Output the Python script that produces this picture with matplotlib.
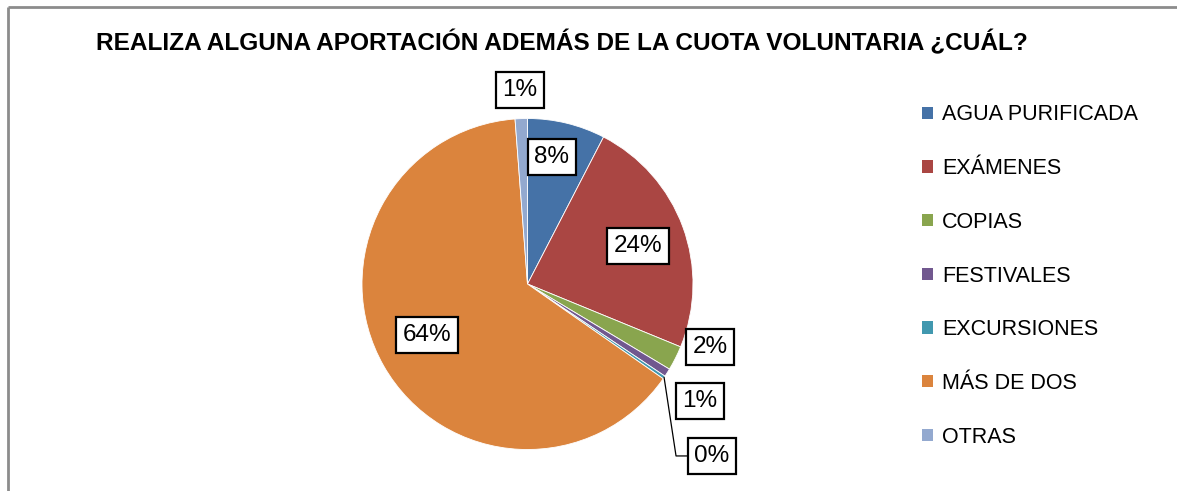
import matplotlib
matplotlib.use("Agg")
import matplotlib.pyplot as plt
from matplotlib.patches import Patch
import numpy as np

categories = ["AGUA PURIFICADA", "EXÁMENES", "COPIAS", "FESTIVALES",
              "EXCURSIONES", "MÁS DE DOS", "OTRAS"]
values = [7.6, 23.6, 2.4, 0.8, 0.3, 64.1, 1.2]
pct_labels = ["8%", "24%", "2%", "1%", "0%", "64%", "1%"]
colors = ["#4572A7", "#AA4643", "#89A54E", "#71588F", "#4198AF", "#DB843D", "#93A9CF"]
title = "REALIZA ALGUNA APORTACIÓN ADEMÁS DE LA CUOTA VOLUNTARIA ¿CUÁL?"

# label placement (in units of radius, relative to centre)
label_pos = [(0.148, 0.767), (0.668, 0.230), (1.103, -0.381), (1.042, -0.707),
             (1.115, -1.039), (-0.607, -0.308), (-0.045, 1.172)]

W, H = 1177, 491
fig = plt.figure(figsize=(W / 100, H / 100), dpi=100)
ax = fig.add_axes([0, 0, 1, 1])

cx, cy, R = 527.5, 207.0, 165.5
wedges, _ = ax.pie(values, colors=colors, startangle=90, counterclock=False,
                   center=(cx, cy), radius=R, frame=True,
                   wedgeprops=dict(edgecolor="white", linewidth=0.6))
ax.set_xlim(0, W)
ax.set_ylim(0, H)
ax.axis("off")

font = "Liberation Sans"
for i, (lab, (fx, fy)) in enumerate(zip(pct_labels, label_pos)):
    tx, ty = cx + fx * R, cy + fy * R
    ax.text(tx, ty, lab, ha="center", va="center", fontsize=17.5, family=font,
            color="black",
            bbox=dict(boxstyle="square,pad=0.28", fc="white", ec="black", lw=1.6))
    if categories[i] == "EXCURSIONES":
        w = wedges[i]
        mid = np.deg2rad((w.theta1 + w.theta2) / 2)
        sx, sy = cx + R * np.cos(mid), cy + R * np.sin(mid)
        ax.plot([sx, tx - 36, tx - 25], [sy, ty, ty], color="black", lw=0.9)

ax.text(562, H - 50, title, ha="center", va="baseline", fontsize=17.6,
        fontweight="bold", family=font, color="black")

handles = [Patch(facecolor=c, edgecolor="none") for c in colors]
leg = ax.legend(handles, categories, loc="upper left",
                bbox_to_anchor=(903 / W, 1 - 85 / H), frameon=False,
                prop=dict(family=font, size=15.5), handlelength=0.5,
                handleheight=0.5, handletextpad=0.42, labelspacing=1.52)

# chart border
ax.plot([8, W], [H - 7, H - 7], color="#8c8c8c", lw=2, solid_capstyle="butt")
ax.plot([8, 8], [H - 7, 0], color="#8c8c8c", lw=2, solid_capstyle="butt")

fig.savefig("out.png", dpi=100)
